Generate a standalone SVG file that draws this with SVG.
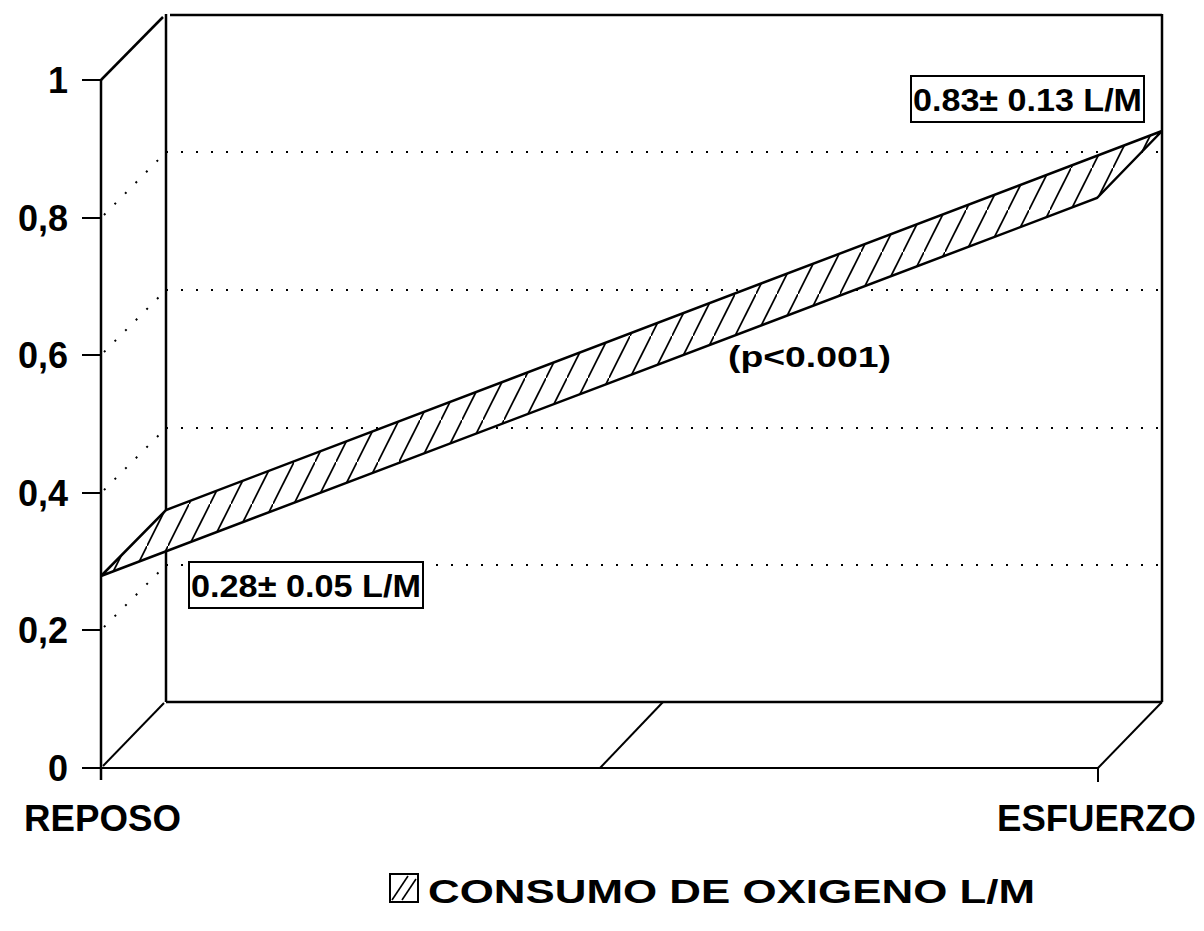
<svg xmlns="http://www.w3.org/2000/svg" width="1204" height="931" viewBox="0 0 1204 931">
<style>
.t{font-family:"Liberation Sans",Arial,sans-serif;font-weight:bold;fill:#000}
.solid{stroke:#000;stroke-width:2.5;fill:none}
.thin{stroke:#000;stroke-width:2;fill:none}
.dot{stroke:#000;stroke-width:2;fill:none;stroke-dasharray:2 13}
</style>
<defs>
<pattern id="hatch" patternUnits="userSpaceOnUse" x="0" y="0" width="21" height="42">
<line x1="-1" y1="44" x2="22" y2="-2" stroke="#000" stroke-width="1.7"/>
</pattern>
</defs>
<rect width="1204" height="931" fill="#fff"/>
<g id="frame">
<line class="solid" x1="101" y1="80" x2="101" y2="780"/>
<line class="solid" x1="101" y1="80" x2="163" y2="17"/>
<line class="solid" x1="166" y1="14" x2="166" y2="702"/>
<line class="solid" x1="170" y1="15" x2="1162" y2="15"/>
<line class="solid" x1="1162" y1="14" x2="1162" y2="702"/>
<line class="solid" x1="166" y1="702" x2="1162" y2="702"/>
<line class="thin" x1="101" y1="768" x2="1098" y2="768"/>
<line class="thin" x1="103" y1="766" x2="164" y2="703"/>
<line class="thin" x1="600" y1="768" x2="663" y2="702"/>
<line class="thin" x1="1098" y1="768" x2="1162" y2="702"/>
<line class="thin" x1="1098" y1="768" x2="1098" y2="782"/>
</g>
<g id="ticks">
<line class="thin" x1="82" y1="80" x2="101" y2="80"/>
<line class="thin" x1="82" y1="218" x2="101" y2="218"/>
<line class="thin" x1="82" y1="355" x2="101" y2="355"/>
<line class="thin" x1="82" y1="493" x2="101" y2="493"/>
<line class="thin" x1="82" y1="630" x2="101" y2="630"/>
<line class="thin" x1="82" y1="768" x2="101" y2="768"/>
</g>
<g id="grid">
<line class="dot" x1="166" y1="152" x2="1160" y2="152"/>
<line class="dot" x1="166" y1="290" x2="1160" y2="290"/>
<line class="dot" x1="166" y1="428" x2="1160" y2="428"/>
<line class="dot" x1="166" y1="565" x2="1160" y2="565"/>
<line class="dot" x1="104" y1="215" x2="166" y2="152"/>
<line class="dot" x1="104" y1="352" x2="166" y2="290"/>
<line class="dot" x1="104" y1="490" x2="166" y2="428"/>
<line class="dot" x1="104" y1="627" x2="166" y2="565"/>
</g>
<g id="series">
<polygon points="101,576 166,510 1162,131 1097,198" fill="#fff"/>
<polygon points="101,576 166,510 1162,131 1097,198" fill="url(#hatch)" stroke="#000" stroke-width="2.5" stroke-linejoin="miter"/>
</g>
<g id="label-reposo-value">
<rect x="189" y="562" width="234" height="46" fill="#fff" stroke="#000" stroke-width="2"/>
<text class="t" x="191" y="597" font-size="31" textLength="230" lengthAdjust="spacingAndGlyphs">0.28± 0.05 L/M</text>
</g>
<g id="label-esfuerzo-value">
<rect x="911" y="76" width="233" height="46" fill="#fff" stroke="#000" stroke-width="2"/>
<text class="t" x="913" y="111" font-size="31" textLength="229" lengthAdjust="spacingAndGlyphs">0.83± 0.13 L/M</text>
</g>
<g id="pvalue">
<text class="t" x="728" y="367" font-size="30" textLength="163" lengthAdjust="spacingAndGlyphs">(p&lt;0.001)</text>
</g>
<g id="ylabels" class="t" font-size="36" text-anchor="end">
<text class="t" x="68" y="93">1</text>
<text class="t" x="68" y="231">0,8</text>
<text class="t" x="68" y="368">0,6</text>
<text class="t" x="68" y="506">0,4</text>
<text class="t" x="68" y="643">0,2</text>
<text class="t" x="68" y="781">0</text>
</g>
<g id="xlabels">
<text class="t" x="24" y="831" font-size="37" textLength="157" lengthAdjust="spacingAndGlyphs">REPOSO</text>
<text class="t" x="997" y="831" font-size="37" textLength="199" lengthAdjust="spacingAndGlyphs">ESFUERZO</text>
</g>
<g id="legend">
<rect x="390" y="874" width="28" height="28" fill="#fff" stroke="#000" stroke-width="2"/>
<line x1="392" y1="900" x2="408" y2="876" stroke="#000" stroke-width="1.6"/>
<line x1="402" y1="900" x2="416" y2="879" stroke="#000" stroke-width="1.6"/>
<text class="t" x="428" y="903" font-size="34" textLength="607" lengthAdjust="spacingAndGlyphs">CONSUMO DE OXIGENO L/M</text>
</g>
</svg>
